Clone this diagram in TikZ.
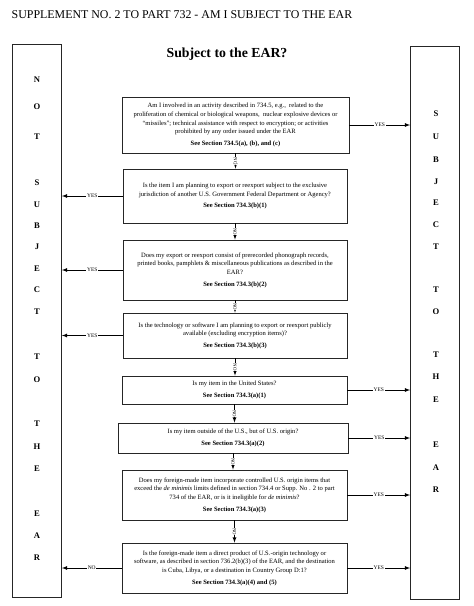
\documentclass[tikz,border=0pt]{standalone}
\usepackage{fontspec}
\setmainfont{Liberation Serif}
\usetikzlibrary{arrows}
\usetikzlibrary{calc}

\begin{document}
\begin{tikzpicture}[x=1pt,y=-1pt,>=latex,thick]
\tikzstyle{question}=[rectangle, draw=black!85, align=center, inner sep=1pt, font=\fontsize{6.55}{8.6}\selectfont]
\tikzstyle{sidebox}=[rectangle, draw=black!85, minimum width=49pt, minimum height=553pt]
\tikzstyle{sideletter}=[font=\bfseries\fontsize{8.6}{9}\selectfont]
\tikzstyle{answer}=[fill=white, inner sep=0.6pt, font=\fontsize{5.5}{6}\selectfont]
\tikzstyle{nolabel}=[fill=white, inner sep=0.3pt, rotate=-90, font=\fontsize{4.8}{5}\selectfont]
\useasboundingbox (0,0) rectangle (474,606);
\node[anchor=west, font=\fontsize{11.9}{13}\selectfont] (title) at (8,15)
    {SUPPLEMENT NO. 2 TO PART 732 - AM I SUBJECT TO THE EAR};
\node[font=\bfseries\fontsize{13.8}{15}\selectfont] (head) at (227,54) {Subject to the EAR?};
% side columns
\node[sidebox] (notear) at (37,321) {};
\node[sidebox] (ear) at (435,322.5) {};
\foreach \ltr/\y [count=\i] in {N/80,O/107,T/137,S/183,U/205,B/226,J/247,E/269,C/290,T/312,T/357,O/380,T/424,H/447,E/469,E/514,A/536,R/558}
    \node[sideletter] (nl\i) at (37,\y) {\ltr};
\foreach \ltr/\y [count=\i] in {S/114,U/137,B/160,J/182,E/203,C/225,T/247,T/290,O/312,T/355,H/377,E/400,E/445,A/468,R/490}
    \node[sideletter] (el\i) at (436,\y) {\ltr};
% questions
\node[question, minimum width=227pt, minimum height=56pt] (q1) at (235.5,125)
    {Am I involved in an activity described in 734.5, e.g.,\ \ related to the\\
     proliferation of chemical or biological weapons,\ \ nuclear explosive devices or\\
     ``missiles''; technical assistance with respect to encryption; or activities\\
     prohibited by any order issued under the EAR\\[3pt]
     \textbf{See Section 734.5(a), (b), and (c)}};
\node[question, minimum width=224pt, minimum height=54pt] (q2) at (235,196)
    {Is the item I am planning to export or reexport subject to the exclusive\\
     jurisdiction of another U.S. Government Federal Department or Agency?\\[3pt]
     \textbf{See Section 734.3(b)(1)}};
\node[question, minimum width=224pt, minimum height=60pt] (q3) at (235,270)
    {Does my export or reexport consist of prerecorded phonograph records,\\
     printed books, pamphlets \& miscellaneous publications as described in the\\
     EAR?\\[3pt]
     \textbf{See Section 734.3(b)(2)}};
\node[question, minimum width=224pt, minimum height=45pt] (q4) at (235,335.5)
    {Is the technology or software I am planning to export or reexport publicly\\
     available (excluding encryption items)?\\[3pt]
     \textbf{See Section 734.3(b)(3)}};
\node[question, minimum width=225pt, minimum height=28pt] (q5) at (234.5,390)
    {Is my item in the United States?\\[3pt]
     \textbf{See Section 734.3(a)(1)}};
\node[question, minimum width=230pt, minimum height=30pt] (q6) at (233,438)
    {Is my item outside of the U.S., but of U.S. origin?\\[3pt]
     \textbf{See Section 734.3(a)(2)}};
\node[question, minimum width=225pt, minimum height=50pt] (q7) at (234.5,495)
    {Does my foreign-made item incorporate controlled U.S. origin items that\\
     exceed the \textit{de minimis} limits defined in section 734.4 or Supp. No . 2 to part\\
     734 of the EAR, or is it ineligible for \textit{de minimis}?\\[3pt]
     \textbf{See Section 734.3(a)(3)}};
\node[question, minimum width=225pt, minimum height=50pt] (q8) at (234.5,568)
    {Is the foreign-made item a direct product of U.S.-origin technology or\\
     software, as described in section 736.2(b)(3) of the EAR, and the destination\\
     is Cuba, Libya, or a destination in Country Group D:1?\\[3pt]
     \textbf{See Section 734.3(a)(4) and (5)}};
% connectors
\foreach \current/\next in {1/2,2/3,3/4,4/5,5/6,6/7,7/8}
    \draw[->] (q\current.south) -- (q\current.south |- q\next.north) node[midway, nolabel] {NO};
\foreach \q in {2,3,4}
    \draw[->] (q\q.west) -- (q\q.west -| notear.east) node[midway, answer] {YES};
\foreach \q in {1,5,6,7,8}
    \draw[->] (q\q.east) -- (q\q.east -| ear.west) node[midway, answer] {YES};
\draw[->] (q8.west) -- (q8.west -| notear.east) node[midway, answer] {NO};
\end{tikzpicture}
\end{document}
